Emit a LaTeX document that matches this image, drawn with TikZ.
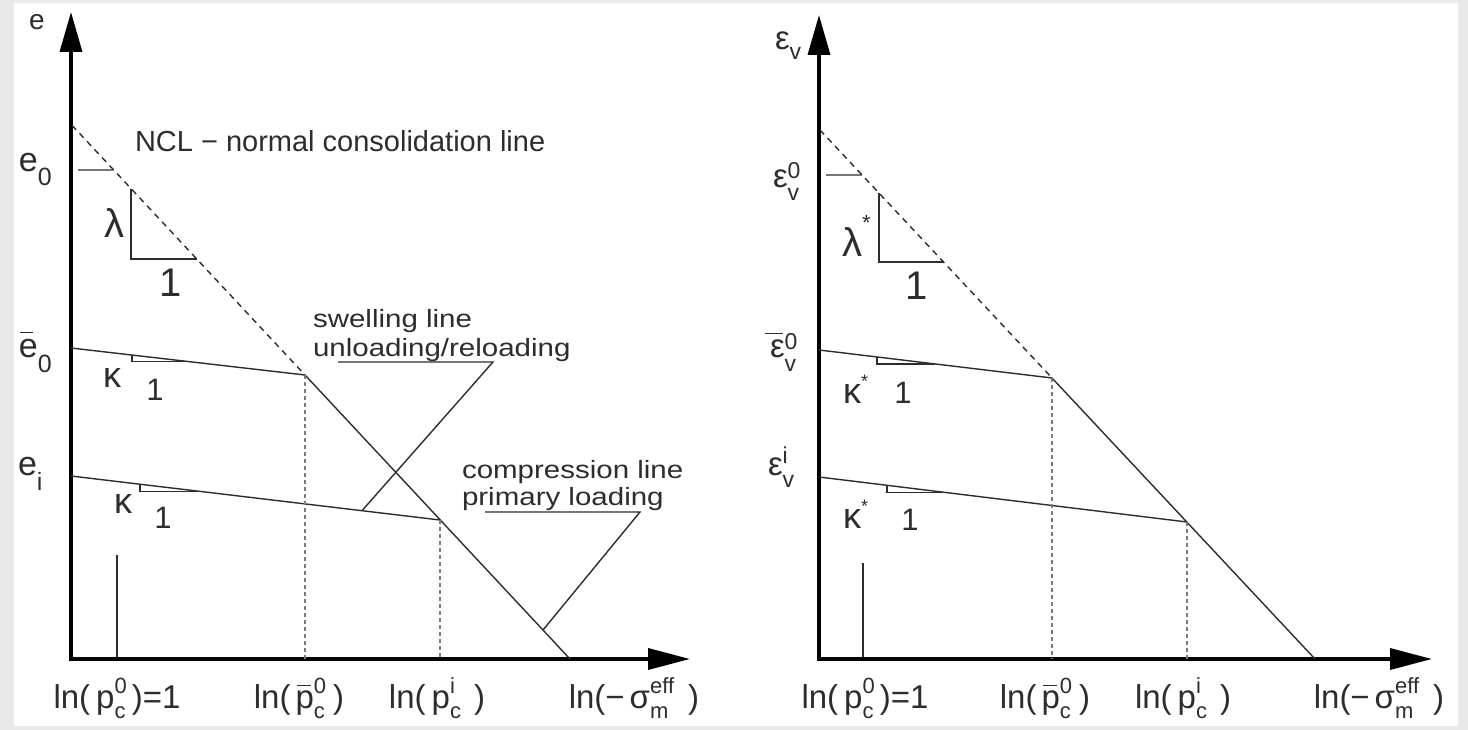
\documentclass[tikz,border=0pt]{standalone}
\usepackage{fontspec}
\setmainfont{Liberation Sans}
\usetikzlibrary{arrows.meta,calc}
\definecolor{frame}{RGB}{233,233,233}
\definecolor{ink}{RGB}{45,45,45}
\definecolor{dotc}{RGB}{125,125,125}
\newcommand\fsz[1]{\fontsize{#1}{#1}\selectfont}
% #1 sup, #2 sub, #3 raise of sup, #4 drop of sub, #5 size
\newcommand\SupSub[5]{\setbox0\hbox{\raisebox{#3}{\fsz{#5}#1}}\setbox2\hbox{\raisebox{-#4}{\fsz{#5}#2}}\ifdim\wd0>\wd2 \rlap{\box2}\box0 \else \rlap{\box0}\box2 \fi}
\newcommand\BarOver[4]{\rlap{\hspace{#1}\raisebox{#2}{\rule{#3}{1.4pt}}}#4}
\newcommand\Wide[1]{\scalebox{1.18}[1]{#1}}
\begin{document}
\begin{tikzpicture}[x=1pt,y=-1pt,
  lab/.style={inner sep=0pt,outer sep=0pt,text=ink},
  axisline/.style={line width=3.5pt,black,line join=miter,
    {Triangle[length=40pt,width=22pt]}-{Triangle[length=42pt,width=21pt]}},
  thinline/.style={line width=1.4pt,ink},
  ncl/.style={line width=1.4pt,ink,dash pattern=on 6pt off 5pt},
  dotv/.style={line width=1.4pt,dotc,dash pattern=on 4pt off 3pt},
  xlab/.style={lab,anchor=base,font=\fsz{33}},
  txt/.style={lab,anchor=base west}]
% background frame
\fill[frame] (0,0) rectangle (1468,730);
\fill[white] (14,3) rectangle (1458,726);
\useasboundingbox (0,0) rectangle (1468,730);

%================ LEFT PANEL =================
\coordinate (O1) at (71,659);
\coordinate (Y1) at (71,12);
\coordinate (X1) at (690,659);
\coordinate (N1) at (72,125.3);
\coordinate (K1) at (305,375);
\coordinate (E1) at (570,659);
\coordinate (U1) at (71,348);
\coordinate (L1) at (71,476);
\coordinate (P1) at (440,520);

\draw[axisline] (Y1) -- (O1) -- (X1);
\draw[ncl] (N1) -- (K1);
\draw[thinline] (U1) -- (K1) -- (E1);
\draw[thinline] (L1) -- (P1);
\draw[dotv] (K1) -- (K1 |- O1);
\draw[dotv] (P1) -- (P1 |- O1);

% e0 tick and lambda triangle
\coordinate (e0a) at (78,170);
\coordinate (e0b) at ($(N1)!0.179!(K1)$);
\draw[thinline] (e0a) -- (e0b);
\coordinate (la1) at ($(N1)!0.2532!(K1)$);
\coordinate (lb1) at ($(N1)!0.5356!(K1)$);
\draw[thinline] (la1) |- (lb1);
% kappa triangles
\coordinate (ka1) at ($(U1)!0.2607!(K1)$);
\coordinate (kb1) at ($(U1)!0.5107!(K1)$);
\draw[thinline] (ka1) |- (kb1);
\coordinate (ka2) at ($(L1)!0.187!(P1)$);
\coordinate (kb2) at ($(L1)!0.3461!(P1)$);
\draw[thinline] (ka2) |- (kb2);
% short tick
\coordinate (t1a) at (117,555);
\coordinate (t1b) at (117,657);
\draw[line width=1.2pt,ink] (t1a) -- (t1b);
% leaders
\coordinate (sw1) at (338,362);
\coordinate (sw2) at (493,362);
\coordinate (sw3) at ($(L1)!0.7886!(P1)$);
\draw[thinline] (sw1) -- (sw2) -- (sw3);
\coordinate (cp1) at (485,512);
\coordinate (cp2) at (640,512);
\coordinate (cp3) at ($(K1)!0.898!(E1)$);
\draw[thinline] (cp1) -- (cp2) -- (cp3);

% texts
\node[txt] (ncltxt) at (135,152) {\fsz{29}NCL − normal consolidation line};
\node[txt] (swA) at (313,327) {\fsz{25}\Wide{swelling line}};
\node[txt] (swB) at (313,356) {\fsz{25}\Wide{unloading/reloading}};
\node[txt] (cmA) at (462,478) {\fsz{25}\Wide{compression line}};
\node[txt] (cmB) at (462,505) {\fsz{25}\Wide{primary loading}};

\node[lab,anchor=base] (lam1) at (114,238) {\fsz{40}λ};
\node[lab,anchor=base] (one1) at (171,297) {\fsz{40}1};
\node[lab,anchor=base] (kap1) at (112,387) {\fsz{36}κ};
\node[lab,anchor=base] (one2) at (155,400) {\fsz{31}1};
\node[lab,anchor=base] (kap2) at (123,513) {\fsz{36}κ};
\node[lab,anchor=base] (one3) at (163,528) {\fsz{31}1};

\node[txt] (ey) at (29,30) {\fsz{28}e};
\node[txt] (e0) at (19,172) {\fsz{34}e\SupSub{}{0}{0pt}{14pt}{25}};
\node[txt] (eb0) at (19,357) {\fsz{34}\BarOver{1pt}{24pt}{13pt}{e}\SupSub{}{0}{0pt}{15pt}{25}};
\node[txt] (ei) at (18,475) {\fsz{34}e\SupSub{}{i}{0pt}{15pt}{25}};

\node[xlab] (xa1) at (117,708) {ln(\hspace{6pt}p\SupSub{0}{c}{15pt}{10pt}{22}\hspace{5pt})=1};
\node[xlab] (xb1) at (299,708) {ln(\hspace{5pt}\BarOver{1pt}{22pt}{14pt}{p}\SupSub{0}{c}{15pt}{10pt}{22}\hspace{7pt})};
\node[xlab] (xc1) at (437,708) {ln(\hspace{6pt}p\SupSub{i}{c}{15pt}{10pt}{22}\hspace{13pt})};
\node[xlab] (xd1) at (634,708) {ln(−\hspace{5pt}σ\SupSub{eff}{m}{15pt}{10pt}{22}\hspace{14pt})};

%================ RIGHT PANEL =================
\coordinate (O2) at (819,659);
\coordinate (Y2) at (819,15);
\coordinate (X2) at (1432,659);
\coordinate (N2) at (820,130);
\coordinate (K2) at (1052,378);
\coordinate (E2) at (1315,659);
\coordinate (U2) at (819,350);
\coordinate (L2) at (819,477);
\coordinate (P2) at (1187,522);

\draw[axisline] (Y2) -- (O2) -- (X2);
\draw[ncl] (N2) -- (K2);
\draw[thinline] (U2) -- (K2) -- (E2);
\draw[thinline] (L2) -- (P2);
\draw[dotv] (K2) -- (K2 |- O2);
\draw[dotv] (P2) -- (P2 |- O2);

\coordinate (v0a) at (826,175);
\coordinate (v0b) at ($(N2)!0.1815!(K2)$);
\draw[thinline] (v0a) -- (v0b);
\coordinate (la2) at ($(N2)!0.2543!(K2)$);
\coordinate (lb2) at ($(N2)!0.5323!(K2)$);
\draw[thinline] (la2) |- (lb2);
\coordinate (ka3) at ($(U2)!0.2489!(K2)$);
\coordinate (kb3) at ($(U2)!0.4989!(K2)$);
\draw[thinline] (ka3) |- (kb3);
\coordinate (ka4) at ($(L2)!0.1848!(P2)$);
\coordinate (kb4) at ($(L2)!0.3404!(P2)$);
\draw[thinline] (ka4) |- (kb4);
\coordinate (t2a) at (863,563);
\coordinate (t2b) at (863,657);
\draw[line width=1.2pt,ink] (t2a) -- (t2b);

\node[lab,anchor=base west] (lam2) at (842,257) {\fsz{40}λ\raisebox{26pt}{\fsz{22}*}};
\node[lab,anchor=base] (one4) at (917,300) {\fsz{40}1};
\node[lab,anchor=base west] (kap3) at (843,403) {\fsz{36}κ\raisebox{16pt}{\fsz{18}*}};
\node[lab,anchor=base] (one5) at (903,403) {\fsz{31}1};
\node[lab,anchor=base west] (kap4) at (843,528) {\fsz{36}κ\raisebox{16pt}{\fsz{18}*}};
\node[lab,anchor=base] (one6) at (910,530) {\fsz{31}1};

\node[txt] (evy) at (775,50) {\fsz{33}ε\SupSub{}{v}{0pt}{10pt}{23}};
\node[txt] (ev0) at (773,188) {\fsz{33}ε\SupSub{0}{v}{9pt}{13pt}{23}};
\node[txt] (evb0) at (770,357) {\fsz{33}\BarOver{-5pt}{23pt}{18pt}{ε}\SupSub{0}{v}{8pt}{14pt}{23}};
\node[txt] (evi) at (768,475) {\fsz{33}ε\SupSub{i}{v}{12pt}{12pt}{23}};

\node[xlab] (xa2) at (865,708) {ln(\hspace{6pt}p\SupSub{0}{c}{15pt}{10pt}{22}\hspace{5pt})=1};
\node[xlab] (xb2) at (1045,708) {ln(\hspace{5pt}\BarOver{1pt}{22pt}{14pt}{p}\SupSub{0}{c}{15pt}{10pt}{22}\hspace{7pt})};
\node[xlab] (xc2) at (1183,708) {ln(\hspace{6pt}p\SupSub{i}{c}{15pt}{10pt}{22}\hspace{13pt})};
\node[xlab] (xd2) at (1379,708) {ln(−\hspace{5pt}σ\SupSub{eff}{m}{15pt}{10pt}{22}\hspace{14pt})};
\end{tikzpicture}
\end{document}
